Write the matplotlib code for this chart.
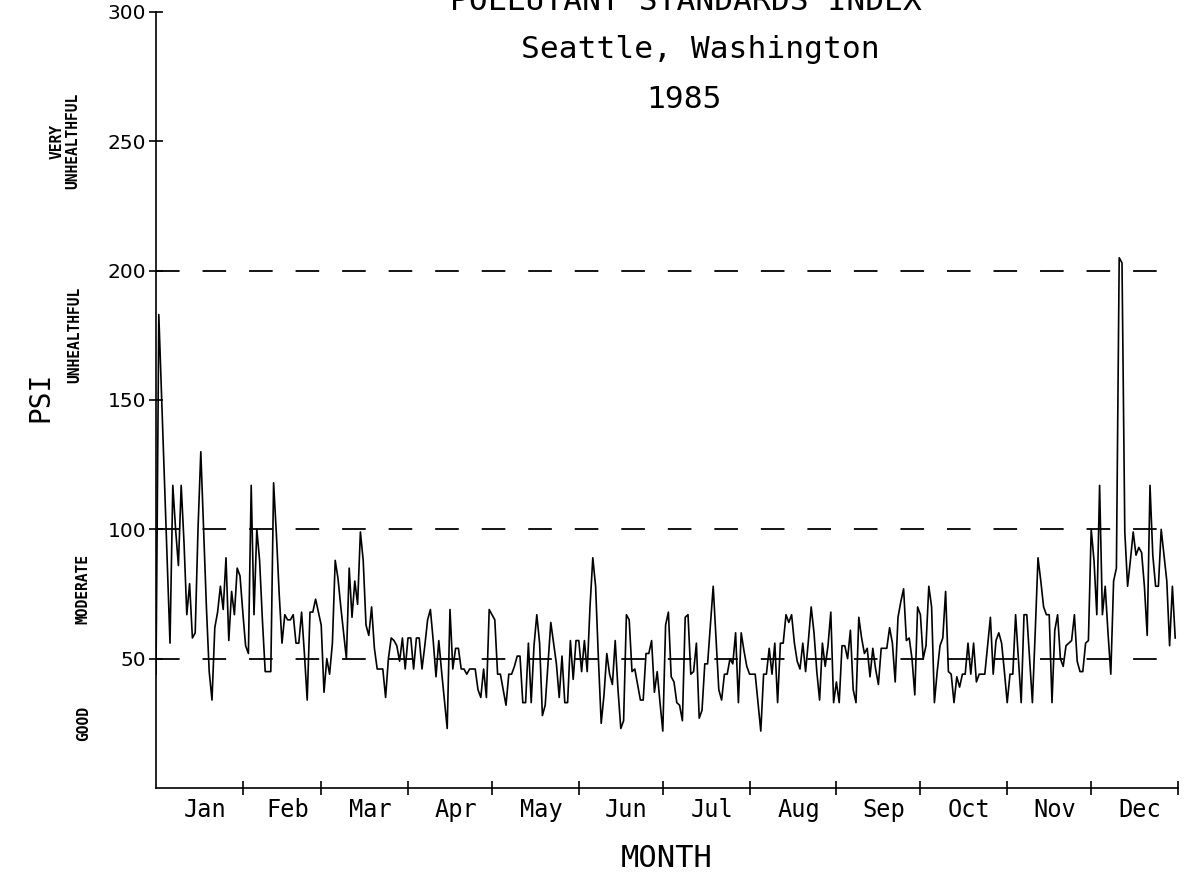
import matplotlib
matplotlib.use("Agg")
import matplotlib.pyplot as plt
import numpy as np

plt.rcParams['lines.scale_dashes'] = False

# daily PSI readings, Seattle 1985, one list per month
jan = [44, 183, 151, 119, 88, 56, 117, 100, 86, 117, 95, 67, 79, 58, 60, 100,
       130, 100, 70, 45, 34, 62, 68, 78, 69, 89, 57, 76, 67, 85, 82]
feb = [68, 55, 52, 117, 67, 100, 88, 65, 45, 45, 45, 118, 98, 75, 56, 67,
       65, 65, 67, 56, 56, 68, 52, 34, 68, 68, 73, 68]
mar = [63, 37, 50, 44, 56, 88, 81, 70, 60, 50, 85, 66, 80, 71, 99, 88,
       63, 59, 70, 54, 46, 46, 46, 35, 50, 58, 57, 55, 49, 58, 46]
apr = [58, 58, 46, 58, 58, 46, 55, 65, 69, 57, 43, 57, 45, 34, 23, 69,
       46, 54, 54, 46, 46, 44, 46, 46, 46, 38, 35, 46, 35, 69]
may = [67, 65, 44, 44, 38, 32, 44, 44, 47, 51, 51, 33, 33, 56, 33, 55,
       67, 56, 28, 32, 48, 64, 56, 48, 35, 51, 33, 33, 57, 42, 57]
jun = [57, 45, 57, 45, 70, 89, 78, 50, 25, 36, 52, 44, 40, 57, 38, 23,
       26, 67, 65, 45, 46, 40, 34, 34, 52, 52, 57, 37, 45, 33]
jul = [22, 63, 68, 43, 41, 33, 32, 26, 66, 67, 44, 45, 56, 27, 30, 48,
       48, 63, 78, 58, 38, 34, 44, 44, 50, 48, 60, 33, 60, 53, 47]
aug = [44, 44, 44, 33, 22, 44, 44, 54, 44, 56, 33, 56, 56, 67, 64, 67,
       56, 49, 46, 56, 45, 57, 70, 60, 45, 34, 56, 47, 55, 68, 33]
sep = [41, 33, 55, 55, 50, 61, 38, 33, 66, 58, 52, 54, 43, 54, 46, 40,
       54, 54, 54, 62, 56, 41, 66, 72, 77, 57, 58, 50, 36, 70]
oct_ = [67, 50, 55, 78, 70, 33, 45, 55, 58, 76, 45, 44, 33, 43, 39, 44,
        44, 56, 44, 56, 41, 44, 44, 44, 55, 66, 44, 57, 60, 56, 45]
nov = [33, 44, 44, 67, 50, 33, 67, 67, 50, 33, 60, 89, 80, 70, 67, 67,
       33, 61, 67, 50, 47, 55, 56, 57, 67, 49, 45, 45, 56, 57]
dec = [100, 88, 67, 117, 67, 78, 60, 44, 80, 85, 205, 203, 99, 78, 88, 99,
       90, 93, 91, 78, 59, 117, 90, 78, 78, 100, 90, 80, 55, 78, 58]

months = ['Jan', 'Feb', 'Mar', 'Apr', 'May', 'Jun',
          'Jul', 'Aug', 'Sep', 'Oct', 'Nov', 'Dec']
month_data = [jan, feb, mar, apr, may, jun, jul, aug, sep, oct_, nov, dec]
levels = [50, 100, 200]
yticks = [50, 100, 150, 200, 250, 300]
bands = [(250, 'VERY\nUNHEALTHFUL', 65), (175, 'UNHEALTHFUL', 75),
         (77, 'MODERATE', 83), (25, 'GOOD', 84)]

psi = np.concatenate(month_data)
days = np.arange(len(psi))
lengths = [len(m) for m in month_data]
month_ends = np.cumsum(lengths)
month_mids = month_ends - np.array(lengths) / 2 + 2

mono = 'DejaVu Sans Mono'

fig = plt.figure(figsize=(11.87, 8.73), dpi=100)
ax = fig.add_axes([156 / 1187, 1 - 788 / 873, (1178 - 156) / 1187, (788 - 12) / 873])

for lv in levels:
    ax.axhline(lv, color='black', lw=1.3, linestyle=(0, (17, 16.5)), zorder=1)
ax.plot(days, psi, color='black', lw=1.2, zorder=2)

ax.set_xlim(0, 365)
ax.set_ylim(0, 300)
for s in ['top', 'right']:
    ax.spines[s].set_visible(False)
for s in ['left', 'bottom']:
    ax.spines[s].set_linewidth(1.2)

ax.set_yticks(yticks)
ax.set_yticklabels([str(v) for v in yticks], fontsize=14.5, family='DejaVu Sans')
ax.tick_params(axis='y', direction='inout', length=10, width=1.2, pad=2)

ax.set_xticks(month_ends)
ax.set_xticklabels([])
ax.tick_params(axis='x', which='major', direction='inout', length=10, width=1.2)
ax.set_xticks(month_mids, minor=True)
ax.set_xticklabels(months, minor=True, fontsize=17, family=mono)
ax.tick_params(axis='x', which='minor', length=0, pad=7)

ax.set_xlabel('MONTH', fontsize=22, family=mono, labelpad=16)
fig.text(40 / 1187, 1 - 397 / 873, 'PSI', rotation=90, fontsize=20, family=mono,
         ha='center', va='center')

for val, txt, xp in bands:
    ax.annotate(txt, xy=(xp, val), xycoords=('figure pixels', 'data'),
                rotation=90, ha='center', va='center', fontsize=10.5,
                family=mono, fontweight='bold', linespacing=1.0)

fig.text(0.578, 1 - 2 / 873, 'POLLUTANT STANDARDS INDEX', fontsize=22.5,
         family=mono, ha='center', va='center')
fig.text(0.59, 1 - 50 / 873, 'Seattle, Washington', fontsize=22.5,
         family=mono, ha='center', va='center')
fig.text(0.576, 1 - 100 / 873, '1985', fontsize=22.5,
         family=mono, ha='center', va='center')

fig.savefig('out.png', dpi=100)
